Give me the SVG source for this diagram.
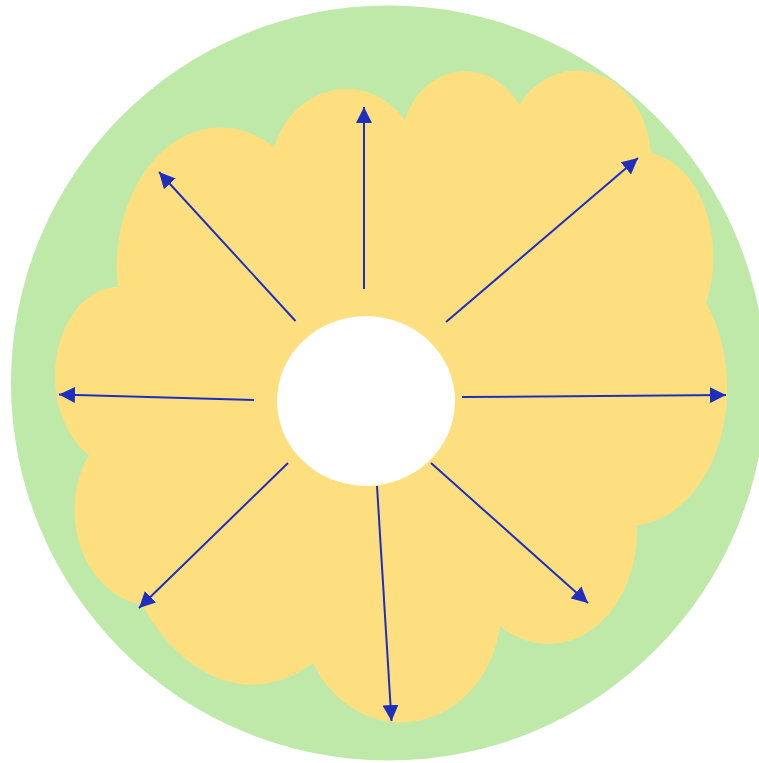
<svg xmlns="http://www.w3.org/2000/svg" width="759" height="763" viewBox="0 0 759 763">
  <style>
    .outer { fill: #bee9a9; }
    .cloud { fill: #fedf7f; }
    .hole { fill: #ffffff; }
    .conn { stroke: #1f2ebf; stroke-width: 2; fill: none; marker-end: url(#arrow); }
  </style>
  <defs>
    <marker id="arrow" viewBox="0 0 16 16" markerWidth="16" markerHeight="16" refX="16" refY="8" orient="auto" markerUnits="userSpaceOnUse">
      <path d="M0,0 L16,8 L0,16 Z" fill="#1f2ebf"/>
    </marker>
  </defs>
  <g id="outer-circle">
    <circle class="outer" cx="388.5" cy="383" r="377.5"/>
  </g>
  <g id="cloud">
    <path class="cloud" d="M 118 287
      A 104 139 0 0 1 274 147
      A 76 85 0 0 1 405 120
      A 63 70 0 0 1 519 105
      A 74 90 0 0 1 651 153
      A 72 105 0 0 1 706 303
      A 97 137 0 0 1 637 525
      A 89 113 0 0 1 500 626
      A 100 113 0 0 1 313 663
      A 150 250 0 0 1 142 605
      A 80 96 0 0 1 89 455
      A 63 89 0 0 1 118 287 Z"/>
  </g>
  <g id="center">
    <ellipse class="hole" cx="366" cy="401" rx="89" ry="85"/>
  </g>
  <g id="connectors">
    <line class="conn" x1="364" y1="289" x2="364" y2="107"/>
    <line class="conn" x1="295.5" y1="321" x2="159" y2="172"/>
    <line class="conn" x1="446" y1="322" x2="638" y2="158"/>
    <line class="conn" x1="254" y1="400" x2="59" y2="394.5"/>
    <line class="conn" x1="462" y1="397" x2="726" y2="395"/>
    <line class="conn" x1="288" y1="463" x2="139" y2="608"/>
    <line class="conn" x1="377" y1="486" x2="391.5" y2="721"/>
    <line class="conn" x1="431" y1="463" x2="588" y2="603"/>
  </g>
</svg>
